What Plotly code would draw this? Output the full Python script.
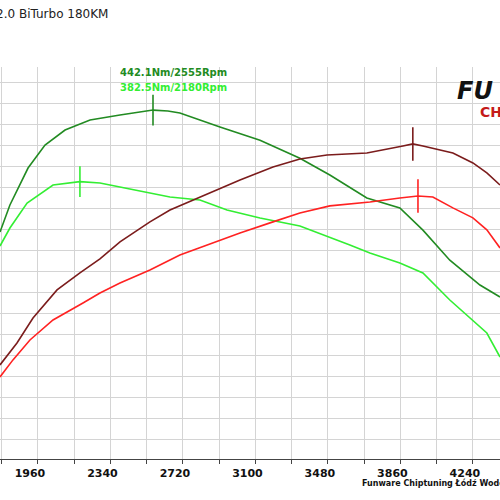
import plotly.graph_objects as go

# Tuned torque (Nm)
tq_tuned_rpm = [1761,1813,1908,1997,2102,2233,2390,2563,2641,2704,2914,3124,3333,3490,3684,3857,3978,4119,4277,4382]
tq_tuned = [340.5,363.0,393.8,413.0,425.5,433.8,438.0,442.1,441.3,439.6,428.0,417.0,402.0,388.0,368.8,360.5,342.0,317.0,296.3,286.3]
# Stock torque (Nm)
tq_stock_rpm = [1761,1813,1903,2039,2180,2285,2442,2547,2652,2809,2951,3124,3333,3595,3700,3857,3978,4119,4313,4382]
tq_stock = [328.8,343.8,364.6,379.6,382.5,381.3,376.3,373.0,369.6,367.1,358.8,352.1,345.5,329.6,323.0,314.6,306.3,283.8,256.3,236.3]
# Tuned power (KM)
pw_tuned_rpm = [1761,1850,1934,2060,2180,2285,2390,2547,2652,2809,3019,3192,3333,3475,3684,3873,3925,3978,4135,4240,4313,4382]
pw_tuned = [61.2,76.5,94.0,113.6,125.5,135.3,147.2,161.2,169.5,178.6,190.5,199.6,205.2,208.0,209.4,214.3,215.7,214.3,209.4,202.4,195.4,187.0]
# Stock power (KM)
pw_stock_rpm = [1761,1829,1918,2039,2196,2285,2390,2547,2704,2846,3019,3192,3333,3490,3700,3857,3952,4030,4135,4240,4313,4382]
pw_stock = [52.8,64.7,78.6,92.6,104.5,111.5,118.5,127.6,138.1,145.1,153.5,161.2,167.4,172.4,175.1,177.9,179.3,178.6,171.0,164.0,155.6,143.0]

tick_rpm = [1960, 2340, 2720, 3100, 3480, 3860, 4240]

C_DG, C_LG, C_DR, C_R = "#228b22", "#33ee33", "#7b1c1c", "#ff2222"
GRID = "#d4d4d4"

fig = go.Figure()
fig.add_trace(go.Scatter(x=tq_tuned_rpm, y=tq_tuned, mode="lines", line=dict(color=C_DG, width=1.6)))
fig.add_trace(go.Scatter(x=tq_stock_rpm, y=tq_stock, mode="lines", line=dict(color=C_LG, width=1.6)))
fig.add_trace(go.Scatter(x=pw_tuned_rpm, y=pw_tuned, mode="lines", line=dict(color=C_DR, width=1.6), yaxis="y2"))
fig.add_trace(go.Scatter(x=pw_stock_rpm, y=pw_stock, mode="lines", line=dict(color=C_R, width=1.6), yaxis="y2"))
fig.add_trace(go.Scatter(x=[2563], y=[442.1], mode="markers", marker=dict(symbol="line-ns-open", size=22, color=C_DG, line=dict(color=C_DG, width=1.6))))
fig.add_trace(go.Scatter(x=[2180], y=[382.5], mode="markers", marker=dict(symbol="line-ns-open", size=22, color=C_LG, line=dict(color=C_LG, width=1.6))))
fig.add_trace(go.Scatter(x=[3925], y=[215.7], mode="markers", marker=dict(symbol="line-ns-open", size=24, color=C_DR, line=dict(color=C_DR, width=1.6)), yaxis="y2"))
fig.add_trace(go.Scatter(x=[3952], y=[179.3], mode="markers", marker=dict(symbol="line-ns-open", size=24, color=C_R, line=dict(color=C_R, width=1.6)), yaxis="y2"))

fig.update_layout(
    width=500, height=500, showlegend=False,
    margin=dict(l=0, r=0, t=67, b=41, autoexpand=False),
    paper_bgcolor="white", plot_bgcolor="white",
    xaxis=dict(range=[1761, 4382], tickvals=tick_rpm, showgrid=False, zeroline=False, automargin=False,
               ticklabelshift=-8, ticklabelstandoff=4, ticks="",
               tickfont=dict(family="DejaVu Sans", size=11, color="#111", weight="bold"),
               showline=True, linecolor="#444", linewidth=1.2,
               minor=dict(tick0=1770, dtick=190, showgrid=True, gridcolor=GRID, gridwidth=1,
                          ticks="outside", ticklen=4, tickcolor="#444")),
    yaxis=dict(range=[151.3, 478], tick0=464.9, dtick=17.5, showticklabels=False, automargin=False,
               showgrid=True, gridcolor=GRID, gridwidth=1, zeroline=False),
    yaxis2=dict(range=[-4.6, 269.5], overlaying="y", showticklabels=False, showgrid=False, zeroline=False, automargin=False),
    annotations=[
        dict(text="2.0 BiTurbo 180KM", xref="paper", yref="paper", x=-0.012, y=1.135, xanchor="left", yanchor="middle",
             showarrow=False, font=dict(family="DejaVu Sans", size=12, color="#222")),
        dict(text="<b>442.1Nm/2555Rpm</b>", xref="paper", yref="paper", x=0.236, y=0.985, xanchor="left", yanchor="middle",
             showarrow=False, font=dict(family="DejaVu Sans", size=10, color=C_DG)),
        dict(text="<b>382.5Nm/2180Rpm</b>", xref="paper", yref="paper", x=0.236, y=0.948, xanchor="left", yanchor="middle",
             showarrow=False, font=dict(family="DejaVu Sans", size=10, color=C_LG)),
        dict(text="<b><i>FU</i></b>", xref="paper", yref="paper", x=0.91, y=0.94, xanchor="left", yanchor="middle",
             showarrow=False, font=dict(family="DejaVu Sans", size=24, color="#111")),
        dict(text="<b>CH</b>", xref="paper", yref="paper", x=0.955, y=0.885, xanchor="left", yanchor="middle",
             showarrow=False, font=dict(family="DejaVu Sans", size=14, color="#c41a1a")),
        dict(text="<b>Funware Chiptuning Łódź Wodo</b>", xref="paper", yref="paper", x=0.72, y=-0.06, xanchor="left", yanchor="middle",
             showarrow=False, font=dict(family="DejaVu Sans", size=8, color="#111")),
    ],
)
fig.write_html("out.html", config={"displayModeBar": False, "staticPlot": True},
               post_script="document.body.style.margin='0';")
